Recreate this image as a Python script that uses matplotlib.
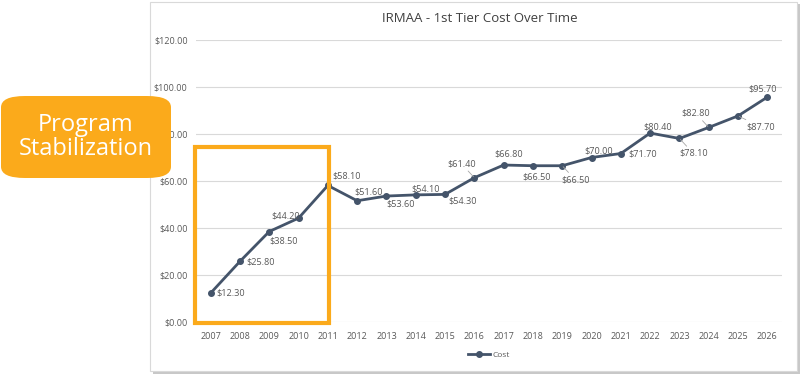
import matplotlib.pyplot as plt
from matplotlib.patches import Rectangle, FancyBboxPatch

plt.rcParams['font.family'] = ['Open Sans', 'DejaVu Sans']

## data ##
years = [str(y) for y in range(2007, 2027)]
cost = [12.30, 25.80, 38.50, 44.20, 58.10, 51.60, 53.60, 54.10, 54.30, 61.40,
        66.80, 66.50, 66.50, 70.00, 71.70, 80.40, 78.10, 82.80, 87.70, 95.70]

# label offsets in pixels (dx, dy) and whether a leader line is drawn
lab_off = [(20, 0), (21, -1), (14, -9), (-13, 2), (19, 9), (11, 9), (14, -8),
           (10, 6), (18, -7), (-13, 14), (5, 11), (4, -11), (13, -14), (7, 7),
           (22, 0), (8, 6), (14, -15), (-13, 14), (23, -11), (-5, 8)]
leader = [False] * 9 + [True, False, False, True, False, False, False, True, True, True, False]

line_col = '#44546A'
grey_txt = '#595959'
orange = '#FBAA1B'

fig = plt.figure(figsize=(8, 3.76), dpi=100)

# chart frame with a soft shadow
fig.add_artist(Rectangle((153/800, 1 - 374/376), 647/800, 370/376,
                         transform=fig.transFigure, facecolor='#C8C8C8',
                         edgecolor='none', zorder=-2))
fig.add_artist(Rectangle((150/800, 1 - 371/376), 647/800, 369/376,
                         transform=fig.transFigure, facecolor='white',
                         edgecolor='#D9D9D9', lw=0.8, zorder=-1))

ax = fig.add_axes([0.245, 0.1436, 0.7325, 0.75])
ax.set_facecolor('none')
x = list(range(len(years)))
ax.plot(x, cost, color=line_col, lw=2.0, marker='o', markersize=4,
        label='Cost', zorder=3)

for i, v in enumerate(cost):
    dx, dy = lab_off[i]
    arrow = None
    if leader[i]:
        arrow = dict(arrowstyle='-', color='#A6A6A6', lw=0.6,
                     shrinkA=0, shrinkB=1)
    ax.annotate(f'${v:.2f}', (i, v), xytext=(dx, dy),
                textcoords='offset pixels', ha='center', va='center',
                fontsize=6.6, color=grey_txt, arrowprops=arrow, zorder=4)

ax.set_xlim(-0.5, len(years) - 0.5)
ax.set_ylim(0, 120)
ax.set_yticks(range(0, 121, 20))
ax.set_yticklabels([f'${t:.2f}' for t in range(0, 121, 20)])
ax.set_xticks(x)
ax.set_xticklabels(years)
ax.tick_params(length=0, labelsize=6.5, labelcolor=grey_txt)
ax.tick_params(axis='y', pad=6)
ax.tick_params(axis='x', pad=7)
ax.grid(axis='y', color='#D9D9D9', lw=0.8)
ax.set_axisbelow(True)
for s in ax.spines.values():
    s.set_visible(False)

fig.text(480/800, 1 - 19/376, 'IRMAA - 1st Tier Cost Over Time',
         ha='center', va='center', fontsize=9.5, color='#404040')

ax.legend(loc='center', bbox_to_anchor=(0.5, -0.117), frameon=False,
          fontsize=6, labelcolor=grey_txt, handlelength=2.6, handletextpad=0.3)

# orange highlight box
fig.add_artist(Rectangle((195/800, 1 - 323/376), 134/800, 176/376,
                         transform=fig.transFigure, facecolor='none',
                         edgecolor=orange, lw=3, zorder=5))

# callout
fig.add_artist(FancyBboxPatch((1/800, 1 - 178/376), 170/800, 82/376,
                              boxstyle='round,pad=0,rounding_size=0.03',
                              transform=fig.transFigure, facecolor=orange,
                              edgecolor='none', zorder=6))
fig.text(86/800, 1 - 137/376, 'Program\nStabilization', ha='center',
         va='center', fontsize=17, color='white', linespacing=1.0, zorder=7)

plt.savefig('out.png', dpi=100)
